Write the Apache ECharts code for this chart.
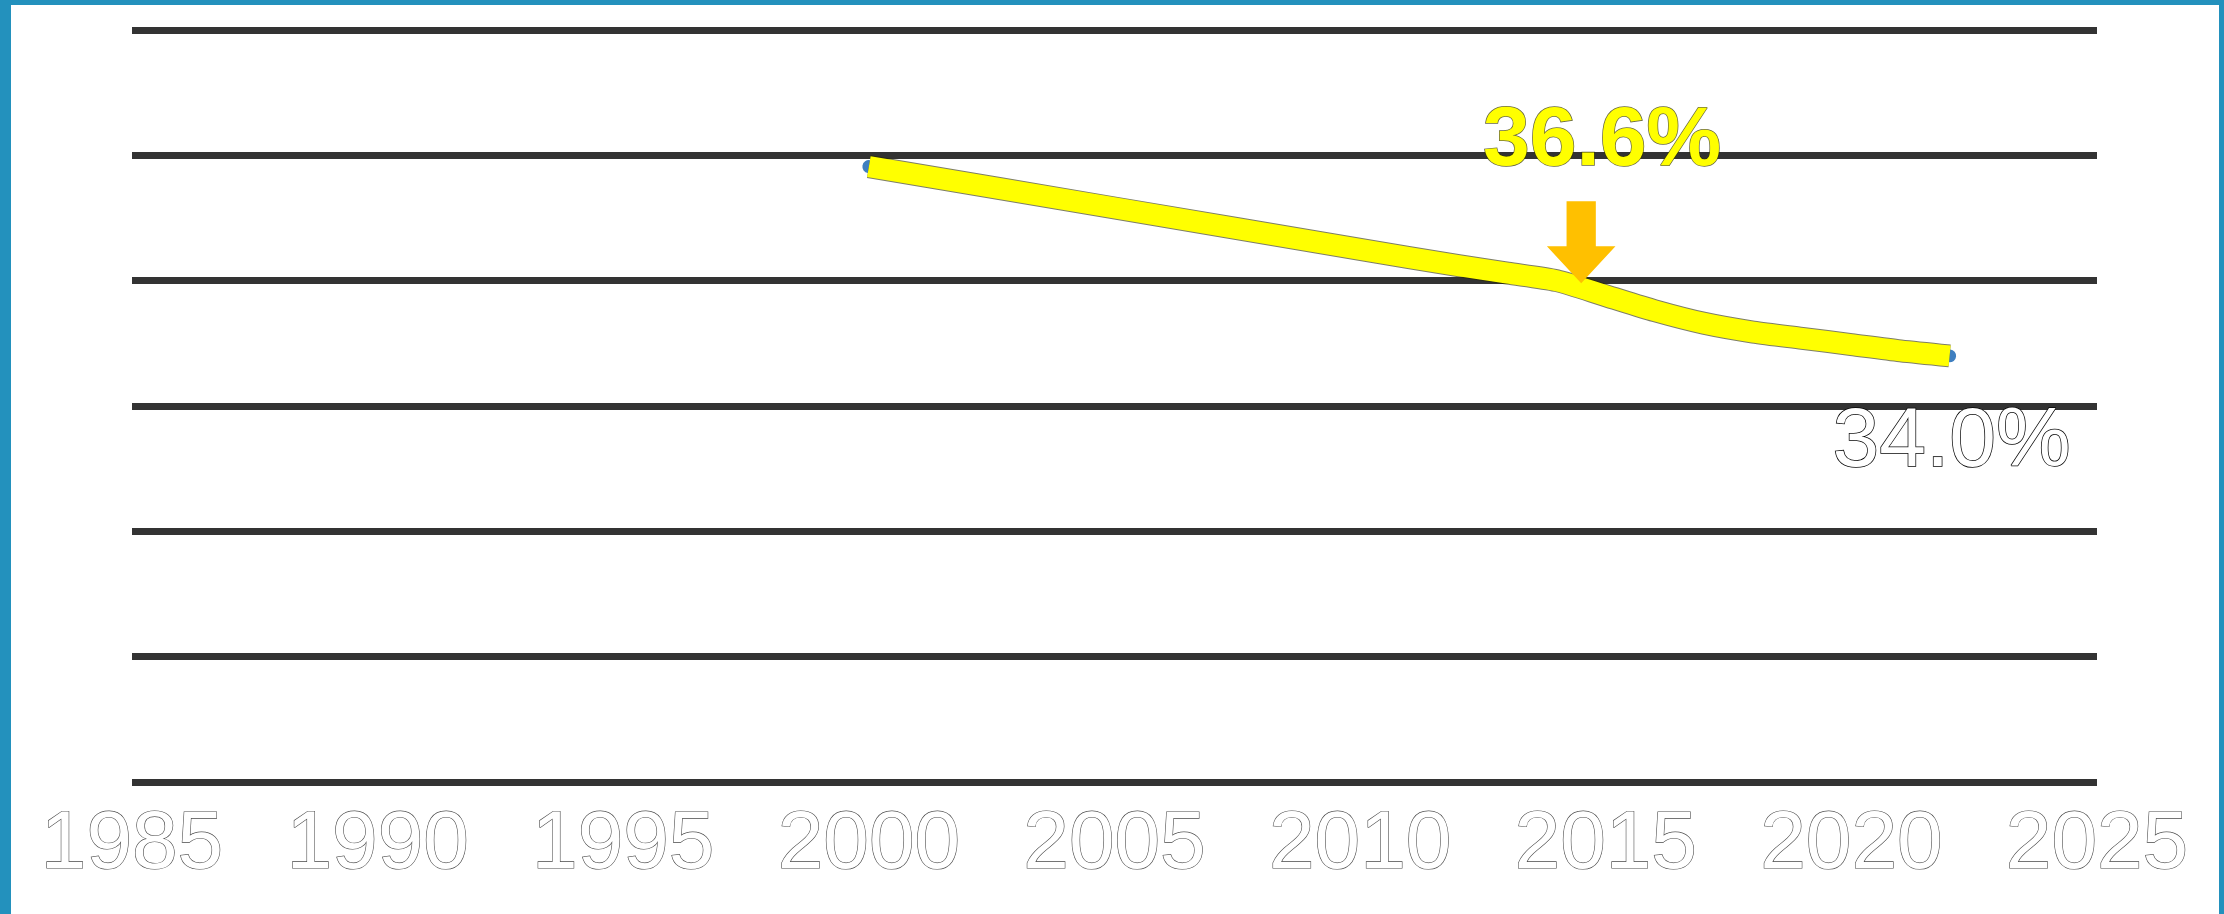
<!DOCTYPE html>
<html>
<head>
<meta charset="utf-8">
<script src="https://cdn.jsdelivr.net/npm/echarts@6/dist/echarts.min.js"></script>
<style>
  html, body { margin: 0; padding: 0; width: 2224px; height: 914px; overflow: hidden; background: #2391bd; }
  #frame { position: absolute; left: 11px; top: 5px; width: 2208px; height: 909px; background: #ffffff; }
  #chart { position: absolute; left: 0; top: 0; width: 2224px; height: 914px; }
</style>
</head>
<body>
<div id="frame"></div>
<div id="chart"></div>
<script>
// ---- data ----
const years  = [2000, 2005, 2010, 2012, 2013, 2014, 2015, 2016, 2017, 2018, 2019, 2020, 2021, 2022];
const values = [49.1, 45.8, 42.5, 41.2, 40.6, 40.0, 38.8, 37.6, 36.6, 35.9, 35.4, 34.9, 34.4, 34.0];
const xTicks = [1985, 1990, 1995, 2000, 2005, 2010, 2015, 2020, 2025];
const yTicks = [0, 10, 20, 30, 40, 50, 60];
const calloutValue = 36.6;          // text shown above the arrow
const arrowPoint = [2014.5, 39.8];  // where the arrow points on the line

const seriesData = years.map((y, i) => [y, values[i]]);
const lastIdx = years.length - 1;

const chart = echarts.init(document.getElementById('chart'), null, { renderer: 'canvas' });

const arrowPath = 'path://M21.5,0 L53.5,0 L53.5,45 L75,45 L37.5,82 L0,45 L21.5,45 Z';

chart.setOption({
  animation: false,
  backgroundColor: 'transparent',
  grid: { left: 132, right: 127, top: 30, bottom: 132, containLabel: false },
  xAxis: {
    type: 'value',
    min: xTicks[0],
    max: xTicks[xTicks.length - 1],
    interval: xTicks[1] - xTicks[0],
    axisLine: { show: false },
    axisTick: { show: false },
    splitLine: { show: false },
    axisLabel: {
      show: true,
      margin: 22,
      fontFamily: 'Liberation Sans, Arial, sans-serif',
      fontSize: 82,
      color: '#ffffff',
      textBorderColor: '#4a4a4a',
      textBorderWidth: 1.2,
      formatter: v => String(v)
    }
  },
  yAxis: {
    type: 'value',
    min: yTicks[0],
    max: yTicks[yTicks.length - 1],
    interval: yTicks[1] - yTicks[0],
    axisLine: { show: false },
    axisTick: { show: false },
    axisLabel: { show: false },
    splitLine: {
      show: true,
      lineStyle: { color: '#333333', width: 7 }
    }
  },
  series: [
    {
      type: 'line',
      data: seriesData,
      showSymbol: false,
      silent: true,
      smooth: 0.25,
      z: 2,
      lineStyle: { color: '#3f7fc0', width: 13, cap: 'round' }
    },
    {
      type: 'line',
      data: seriesData,
      showSymbol: false,
      silent: true,
      smooth: 0.25,
      z: 3,
      lineStyle: { color: 'rgba(40,40,0,0.6)', width: 23, cap: 'butt', join: 'round' }
    },
    {
      type: 'line',
      data: seriesData,
      showSymbol: false,
      silent: true,
      smooth: 0.25,
      z: 4,
      lineStyle: { color: '#ffff00', width: 21, cap: 'butt', join: 'round' },
      markPoint: {
        silent: true,
        animation: false,
        data: [
          {
            coord: arrowPoint,
            symbol: arrowPath,
            symbolSize: [75, 82],
            symbolKeepAspect: true,
            symbolOffset: [0, '-50%'],
            itemStyle: { color: '#ffc000' },
            label: { show: false }
          },
          {
            coord: arrowPoint,
            value: calloutValue,
            symbol: 'rect',
            symbolSize: 1,
            itemStyle: { color: 'rgba(0,0,0,0)' },
            label: {
              show: true,
              position: 'inside',
              offset: [21, -141],
              formatter: p => p.value.toFixed(1) + '%',
              fontFamily: 'Liberation Sans, Arial, sans-serif',
              fontSize: 84,
              fontWeight: 'bold',
              color: '#ffff00',
              textBorderColor: 'rgba(50,50,0,0.75)',
              textBorderWidth: 1.5
            }
          },
          {
            coord: seriesData[lastIdx],
            value: values[lastIdx],
            symbol: 'rect',
            symbolSize: 1,
            itemStyle: { color: 'rgba(0,0,0,0)' },
            label: {
              show: true,
              position: 'inside',
              offset: [2, 87],
              formatter: p => p.value.toFixed(1) + '%',
              fontFamily: 'Liberation Sans, Arial, sans-serif',
              fontSize: 84,
              color: '#ffffff',
              textBorderColor: '#000000',
              textBorderWidth: 1.5
            }
          }
        ]
      }
    }
  ]
});
</script>
</body>
</html>
